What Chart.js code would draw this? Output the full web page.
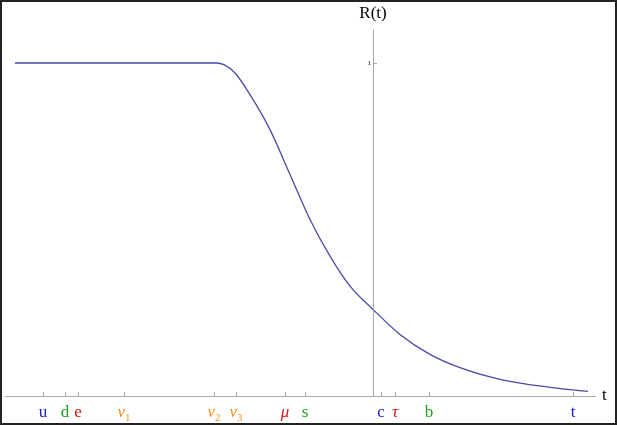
<!DOCTYPE html>
<html>
<head>
<meta charset="utf-8">
<script src="https://cdn.jsdelivr.net/npm/chart.js@4"></script>
<style>
  html, body { margin: 0; padding: 0; background: #fff; }
  #wrap { width: 617px; height: 425px; position: relative; }
</style>
</head>
<body>
<div id="wrap"><canvas id="c"></canvas></div>
<script>
// curve R(t), t in plot units
const curveT = [15, 216, 224, 235, 250, 270, 290, 310, 330, 350, 373, 400, 430, 460, 500, 550, 588];
const curveR = [1, 1, 0.995, 0.97, 0.905, 0.80, 0.665, 0.53, 0.42, 0.33, 0.26, 0.185, 0.125, 0.085, 0.05, 0.026, 0.014];

// marked points on the t axis
const tickNames = ["u", "d", "e", "ν", "ν", "ν", "μ", "s", "c", "τ", "b", "t"];
const tickSubs = ["", "", "", "1", "2", "3", "", "", "", "", "", ""];
const tickPos = [43, 65, 78, 124, 214, 236, 285, 305, 381, 395, 429, 573];
const tickColors = ["#1c1ccc", "#1f9f1f", "#e01010", "#ff8c1a", "#ff8c1a", "#ff8c1a",
  "#e01010", "#1f9f1f", "#1c1ccc", "#e01010", "#1f9f1f", "#1c1ccc"];

const axisOrigin = 373;

const axesPlugin = {
  id: "axes",
  afterDraw(chart) {
    const { ctx, scales: { x, y } } = chart;
    const y0 = y.getPixelForValue(0);
    const x0 = x.getPixelForValue(axisOrigin);
    ctx.save();
    ctx.strokeStyle = "#aaa";
    ctx.lineWidth = 1;
    // horizontal axis
    ctx.beginPath();
    ctx.moveTo(x.getPixelForValue(5), y0 + 0.5);
    ctx.lineTo(x.getPixelForValue(596), y0 + 0.5);
    ctx.stroke();
    // vertical axis
    ctx.beginPath();
    ctx.moveTo(x0 + 0.5, y.getPixelForValue(1.1));
    ctx.lineTo(x0 + 0.5, y0);
    ctx.stroke();
    // tick at R=1
    const y1 = y.getPixelForValue(1);
    ctx.beginPath();
    ctx.moveTo(x0, y1 + 0.5);
    ctx.lineTo(x0 + 4, y1 + 0.5);
    ctx.stroke();
    ctx.fillStyle = "#000";
    ctx.font = "7px 'Liberation Serif'";
    ctx.textAlign = "right";
    ctx.textBaseline = "middle";
    ctx.fillText("1", x0 - 2, y1);
    // t ticks and labels
    tickPos.forEach((p, i) => {
      const px = x.getPixelForValue(p);
      ctx.strokeStyle = "#aaa";
      ctx.beginPath();
      ctx.moveTo(Math.round(px) + 0.5, y0 - 4);
      ctx.lineTo(Math.round(px) + 0.5, y0);
      ctx.stroke();
      const greek = tickSubs[i] !== "" || "νμτ".includes(tickNames[i]);
      ctx.fillStyle = tickColors[i];
      ctx.font = (greek ? "italic " : "") + "17px 'Liberation Serif'";
      ctx.textBaseline = "alphabetic";
      const mainW = ctx.measureText(tickNames[i]).width;
      ctx.font = "11px 'Liberation Serif'";
      const subW = tickSubs[i] ? ctx.measureText(tickSubs[i]).width : 0;
      const left = px - (mainW + subW) / 2;
      ctx.font = (greek ? "italic " : "") + "17px 'Liberation Serif'";
      ctx.textAlign = "left";
      ctx.fillText(tickNames[i], left, y0 + 21);
      if (tickSubs[i]) {
        ctx.font = "11px 'Liberation Serif'";
        ctx.fillText(tickSubs[i], left + mainW, y0 + 25);
      }
    });
    // axis names
    ctx.fillStyle = "#000";
    ctx.font = "17px 'Liberation Serif'";
    ctx.textAlign = "left";
    ctx.textBaseline = "middle";
    ctx.fillText("t", x.getPixelForValue(602), y0);
    ctx.textAlign = "center";
    ctx.fillText("R(t)", x0, 14);
    // frame
    ctx.strokeStyle = "#222";
    ctx.lineWidth = 2;
    ctx.strokeRect(1, 1, chart.width - 2, chart.height - 2);
    ctx.restore();
  }
};

new Chart(document.getElementById("c"), {
  type: "line",
  data: {
    datasets: [{
      data: curveT.map((t, i) => ({ x: t, y: curveR[i] })),
      borderColor: "#4a4aa6",
      borderWidth: 1.3,
      pointRadius: 0,
      cubicInterpolationMode: "monotone",
      fill: false
    }]
  },
  options: {
    responsive: true,
    maintainAspectRatio: false,
    animation: false,
    layout: { padding: 0 },
    plugins: { legend: { display: false }, tooltip: { enabled: false } },
    scales: {
      x: { type: "linear", min: 0, max: 617, display: false },
      y: { min: -29 / 333, max: 396 / 333, display: false }
    }
  },
  plugins: [axesPlugin]
});
</script>
</body>
</html>
